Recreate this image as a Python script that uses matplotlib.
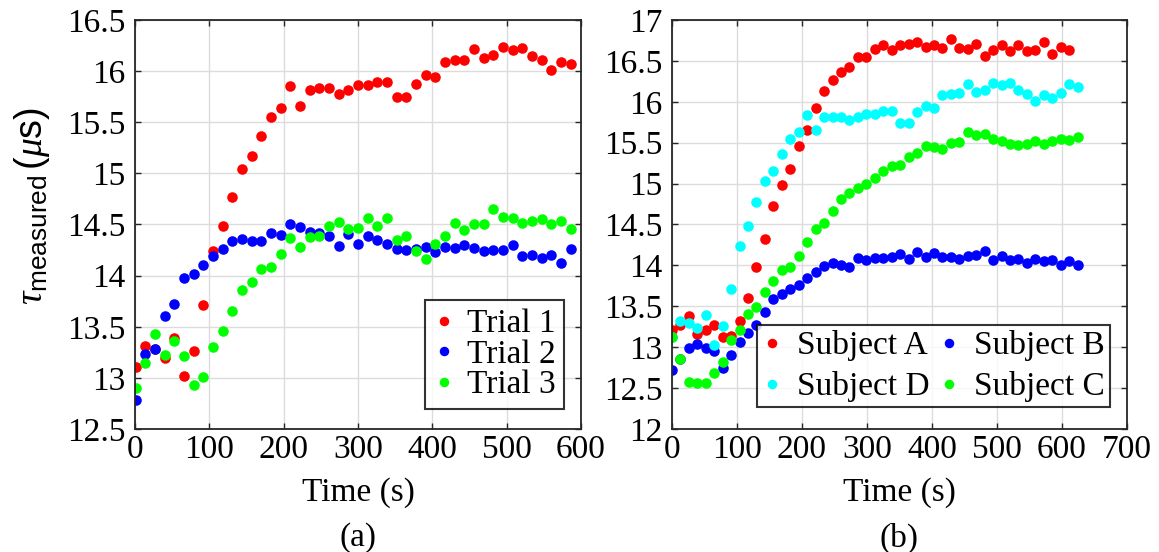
import matplotlib
matplotlib.use("Agg")
import matplotlib.pyplot as plt

plt.rcParams["font.family"] = ["Liberation Serif", "DejaVu Serif"]
plt.rcParams["mathtext.fontset"] = "custom"
plt.rcParams["mathtext.rm"] = "Liberation Sans"
plt.rcParams["mathtext.it"] = "Liberation Serif:italic"
plt.rcParams["mathtext.sf"] = "Liberation Sans"

# (a) three trials of the same subject
time_a = [1, 14, 27, 40, 53, 66, 79, 92, 105, 118, 131, 144, 157, 170, 183, 196,
          209, 222, 235, 248, 261, 274, 287, 300, 313, 326, 339, 352, 365, 378,
          391, 404, 417, 430, 443, 456, 469, 482, 495, 508, 521, 534, 547, 560,
          573, 586]
trial_1 = [13.11, 13.31, 13.28, 13.19, 13.39, 13.02, 13.26, 13.71, 14.24, 14.49,
           14.77, 15.04, 15.17, 15.37, 15.55, 15.64, 15.85, 15.66, 15.82, 15.83,
           15.83, 15.78, 15.82, 15.86, 15.86, 15.89, 15.89, 15.75, 15.75, 15.87,
           15.96, 15.94, 16.09, 16.11, 16.11, 16.22, 16.13, 16.16, 16.24, 16.21,
           16.23, 16.15, 16.11, 16.01, 16.09, 16.07]
trial_2 = [12.78, 13.23, 13.28, 13.61, 13.72, 13.98, 14.02, 14.10, 14.19, 14.26,
           14.34, 14.36, 14.34, 14.34, 14.42, 14.40, 14.50, 14.48, 14.43, 14.42,
           14.39, 14.29, 14.41, 14.31, 14.39, 14.35, 14.31, 14.26, 14.25, 14.26,
           14.28, 14.23, 14.28, 14.27, 14.30, 14.27, 14.24, 14.25, 14.25, 14.30,
           14.19, 14.20, 14.17, 14.20, 14.12, 14.26]
trial_3 = [12.90, 13.15, 13.43, 13.22, 13.36, 13.21, 12.93, 13.01, 13.30, 13.46,
           13.65, 13.86, 13.94, 14.06, 14.08, 14.21, 14.37, 14.28, 14.38, 14.39,
           14.49, 14.52, 14.46, 14.47, 14.56, 14.49, 14.56, 14.35, 14.39, 14.24,
           14.16, 14.31, 14.39, 14.51, 14.45, 14.50, 14.50, 14.65, 14.57, 14.56,
           14.51, 14.53, 14.55, 14.50, 14.53, 14.46]

# (b) four subjects
time_b = [0, 13, 26, 39, 52, 65, 78, 91, 104, 117, 130, 143, 156, 169, 182, 195,
          208, 221, 234, 247, 260, 273, 286, 299, 312, 325, 338, 351, 364, 377,
          390, 403, 416, 429, 442, 455, 468, 481, 494, 507, 520, 533, 546, 559,
          572, 585, 598, 611, 624]
subject_a = [13.21, 13.27, 13.38, 13.16, 13.21, 13.27, 13.13, 13.14, 13.32, 13.60,
             13.98, 14.32, 14.73, 14.98, 15.18, 15.46, 15.65, 15.92, 16.13, 16.27,
             16.36, 16.43, 16.55, 16.55, 16.64, 16.70, 16.63, 16.70, 16.71, 16.73,
             16.67, 16.69, 16.66, 16.77, 16.66, 16.65, 16.71, 16.56, 16.63, 16.70,
             16.62, 16.69, 16.62, 16.63, 16.73, 16.58, 16.67, 16.63]
subject_b = [12.72, 12.86, 12.99, 13.04, 12.99, 12.95, 12.74, 12.90, 13.06, 13.17,
             13.27, 13.43, 13.59, 13.65, 13.71, 13.76, 13.85, 13.92, 13.99, 14.03,
             14.00, 13.98, 14.09, 14.06, 14.09, 14.09, 14.10, 14.14, 14.08, 14.16,
             14.10, 14.15, 14.10, 14.10, 14.08, 14.11, 14.13, 14.17, 14.07, 14.12,
             14.07, 14.08, 14.03, 14.08, 14.05, 14.07, 14.00, 14.05, 14.01]
subject_d = [13.12, 13.32, 13.29, 13.23, 13.39, 13.03, 13.26, 13.71, 14.24, 14.48,
             14.78, 15.03, 15.16, 15.36, 15.54, 15.63, 15.84, 15.65, 15.81, 15.82,
             15.82, 15.78, 15.81, 15.85, 15.85, 15.89, 15.89, 15.74, 15.74, 15.87,
             15.95, 15.93, 16.08, 16.10, 16.11, 16.22, 16.12, 16.15, 16.23, 16.20,
             16.23, 16.14, 16.10, 16.01, 16.08, 16.05, 16.11, 16.22, 16.18]
subject_c = [13.12, 12.85, 12.58, 12.56, 12.56, 12.68, 12.82, 13.09, 13.21, 13.41,
             13.49, 13.67, 13.81, 13.94, 13.98, 14.12, 14.28, 14.44, 14.52, 14.66,
             14.81, 14.88, 14.95, 15.00, 15.07, 15.15, 15.21, 15.23, 15.32, 15.38,
             15.46, 15.45, 15.42, 15.50, 15.51, 15.63, 15.59, 15.61, 15.55, 15.52,
             15.48, 15.47, 15.49, 15.52, 15.49, 15.52, 15.54, 15.53, 15.57]

fs = 24
ms = 7.6


def style_axes(ax):
    ax.grid(True, color="#dcdcdc", linewidth=1.0)
    ax.set_axisbelow(True)
    for s in ax.spines.values():
        s.set_color("#262626")
        s.set_linewidth(1.3)
    ax.tick_params(direction="in", length=4, width=1.0, color="#262626",
                   top=True, right=True, labelsize=fs, pad=4)
    ax.tick_params(axis="y", pad=7)
    for lbl in ax.get_xticklabels() + ax.get_yticklabels():
        lbl.set_fontfamily("Liberation Serif")


fig = plt.figure(figsize=(11.59, 5.52), dpi=100)
ax1 = fig.add_axes([0.1165, 0.2228, 0.3848, 0.7410])
ax2 = fig.add_axes([0.5798, 0.2228, 0.3926, 0.7410])

# left panel
ax1.plot(time_a, trial_1, "o", color="#ff0000", ms=ms, mec="none", label="Trial 1")
ax1.plot(time_a, trial_2, "o", color="#0000ff", ms=ms, mec="none", label="Trial 2")
ax1.plot(time_a, trial_3, "o", color="#00ff00", ms=ms, mec="none", label="Trial 3")
ax1.set_xlim(0, 600)
ax1.set_ylim(12.5, 16.5)
ax1.set_xticks([0, 100, 200, 300, 400, 500, 600])
ax1.set_xticklabels(["0", "100", "200", "300", "400", "500", "600"])
ax1.set_yticks([12.5, 13, 13.5, 14, 14.5, 15, 15.5, 16, 16.5])
ax1.set_yticklabels(["12.5", "13", "13.5", "14", "14.5", "15", "15.5", "16", "16.5"])
style_axes(ax1)
ax1.set_xlabel("Time (s)", fontsize=fs, labelpad=9)
ax1.set_ylabel(r"$\tau_{\mathrm{measured}}\,(\mu\mathrm{s})$", fontsize=27)
ax1.yaxis.set_label_coords(-0.186, 0.545)
ax1.text(0.5, -0.228, "(a)", transform=ax1.transAxes, ha="center", va="top", fontsize=fs)
leg1 = ax1.legend(loc="lower right", bbox_to_anchor=(0.962, 0.05), fontsize=fs,
                  frameon=True, fancybox=False, handlelength=0.6, handletextpad=0.4,
                  borderpad=0.25, labelspacing=0.0, markerscale=0.9, borderaxespad=0)
leg1.get_frame().set_edgecolor("black")
leg1.get_frame().set_linewidth(1.5)

# right panel
pa, = ax2.plot(time_b[:len(subject_a)], subject_a, "o", color="#ff0000", ms=ms, mec="none", label="Subject A")
pb, = ax2.plot(time_b, subject_b, "o", color="#0000ff", ms=ms, mec="none", label="Subject B")
pd, = ax2.plot(time_b, subject_d, "o", color="#00ffff", ms=ms, mec="none", label="Subject D")
pc, = ax2.plot(time_b, subject_c, "o", color="#00ff00", ms=ms, mec="none", label="Subject C")
ax2.set_xlim(0, 700)
ax2.set_ylim(12, 17)
ax2.set_xticks([0, 100, 200, 300, 400, 500, 600, 700])
ax2.set_xticklabels(["0", "100", "200", "300", "400", "500", "600", "700"])
ax2.set_yticks([12, 12.5, 13, 13.5, 14, 14.5, 15, 15.5, 16, 16.5, 17])
ax2.set_yticklabels(["12", "12.5", "13", "13.5", "14", "14.5", "15", "15.5", "16", "16.5", "17"])
style_axes(ax2)
ax2.set_xlabel("Time (s)", fontsize=fs, labelpad=9)
ax2.text(0.5, -0.228, "(b)", transform=ax2.transAxes, ha="center", va="top", fontsize=fs)
leg2 = ax2.legend(handles=[pa, pd, pb, pc], ncol=2, loc="lower right",
                  bbox_to_anchor=(0.963, 0.053), fontsize=fs, frameon=True,
                  fancybox=False, handlelength=0.6, handletextpad=0.45,
                  borderpad=0.15, labelspacing=0.3, columnspacing=0.3,
                  markerscale=0.9, borderaxespad=0)
leg2.get_frame().set_edgecolor("black")
leg2.get_frame().set_linewidth(1.5)

fig.savefig("out.png", dpi=100)
